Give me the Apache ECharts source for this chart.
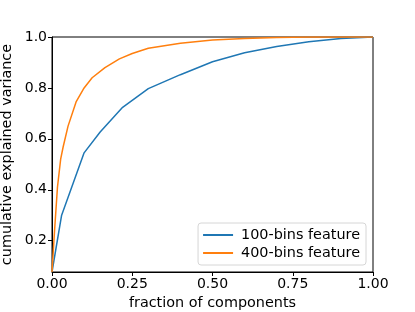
<!DOCTYPE html>
<html><head><meta charset="utf-8">
<script src="https://cdn.jsdelivr.net/npm/echarts@6/dist/echarts.min.js"></script>
<style>html,body{margin:0;padding:0;background:#fff}#c{width:415px;height:312px}</style>
</head><body><div id="c"></div>
<script>
const seriesNames = ['100-bins feature', '400-bins feature'];
const blueX = [0, 0.03, 0.10, 0.15, 0.22, 0.30, 0.40, 0.50, 0.60, 0.70, 0.80, 0.90, 1.0];
const blueY = [0.077, 0.30, 0.545, 0.627, 0.724, 0.797, 0.852, 0.903, 0.938, 0.963, 0.981, 0.994, 1.0];
const orangeX = [0, 0.008, 0.017, 0.027, 0.035, 0.05, 0.075, 0.10, 0.125, 0.165, 0.21, 0.25, 0.30, 0.40, 0.50, 0.60, 0.70, 0.80, 1.0];
const orangeY = [0.077, 0.24, 0.41, 0.52, 0.57, 0.65, 0.745, 0.80, 0.84, 0.88, 0.914, 0.935, 0.956, 0.975, 0.988, 0.994, 0.998, 1.0, 1.0];
const yTicks = [0.2, 0.4, 0.6, 0.8, 1.0];

const font = 'DejaVu Sans';
const chart = echarts.init(document.getElementById('c'), null, {renderer: 'canvas'});
chart.setOption({
  animation: false,
  textStyle: {fontFamily: font},
  grid: {left: 52, right: 42, top: 37, bottom: 40, containLabel: false, outerBoundsMode: 'none',
         show: true, borderColor: '#000', borderWidth: 1, backgroundColor: 'transparent'},
  xAxis: {
    type: 'value', min: 0, max: 1, interval: 0.25,
    axisLine: {show: true, lineStyle: {color: '#000', width: 1}},
    axisTick: {show: true, length: 4, lineStyle: {color: '#000'}},
    splitLine: {show: false},
    axisLabel: {color: '#000', fontSize: 14, fontFamily: font, margin: 5, formatter: v => v.toFixed(2)},
    name: 'fraction of components', nameLocation: 'middle', nameGap: 23,
    nameTextStyle: {color: '#000', fontSize: 14.4, fontFamily: font}
  },
  yAxis: {
    type: 'value', min: 0.077, max: 1,
    axisLine: {show: true, lineStyle: {color: '#000', width: 1}},
    axisTick: {show: true, length: 4, customValues: yTicks, lineStyle: {color: '#000'}},
    splitLine: {show: false},
    axisLabel: {color: '#000', fontSize: 14, fontFamily: font, margin: 5, customValues: yTicks, formatter: v => v.toFixed(1)},
    name: 'cumulative explained variance', nameLocation: 'middle', nameGap: 30, nameRotate: 90,
    nameTextStyle: {color: '#000', fontSize: 14.4, fontFamily: font}
  },
  legend: {
    orient: 'vertical', right: 49, bottom: 47,
    backgroundColor: '#fff', borderColor: '#d6d6d6', borderWidth: 1, borderRadius: 3,
    padding: [5, 6, 5, 5], itemGap: 4,
    itemWidth: 30, itemHeight: 2, icon: 'rect',
    textStyle: {color: '#000', fontSize: 14.4, fontFamily: font, padding: [0, 0, 0, 3]},
    data: seriesNames
  },
  series: [
    {name: seriesNames[0], type: 'line', showSymbol: false, symbol: 'none', color: '#1f77b4', lineStyle: {width: 1.5},
     data: blueX.map((x, i) => [x, blueY[i]])},
    {name: seriesNames[1], type: 'line', showSymbol: false, symbol: 'none', color: '#ff7f0e', lineStyle: {width: 1.5},
     data: orangeX.map((x, i) => [x, orangeY[i]])}
  ]
});
</script></body></html>
